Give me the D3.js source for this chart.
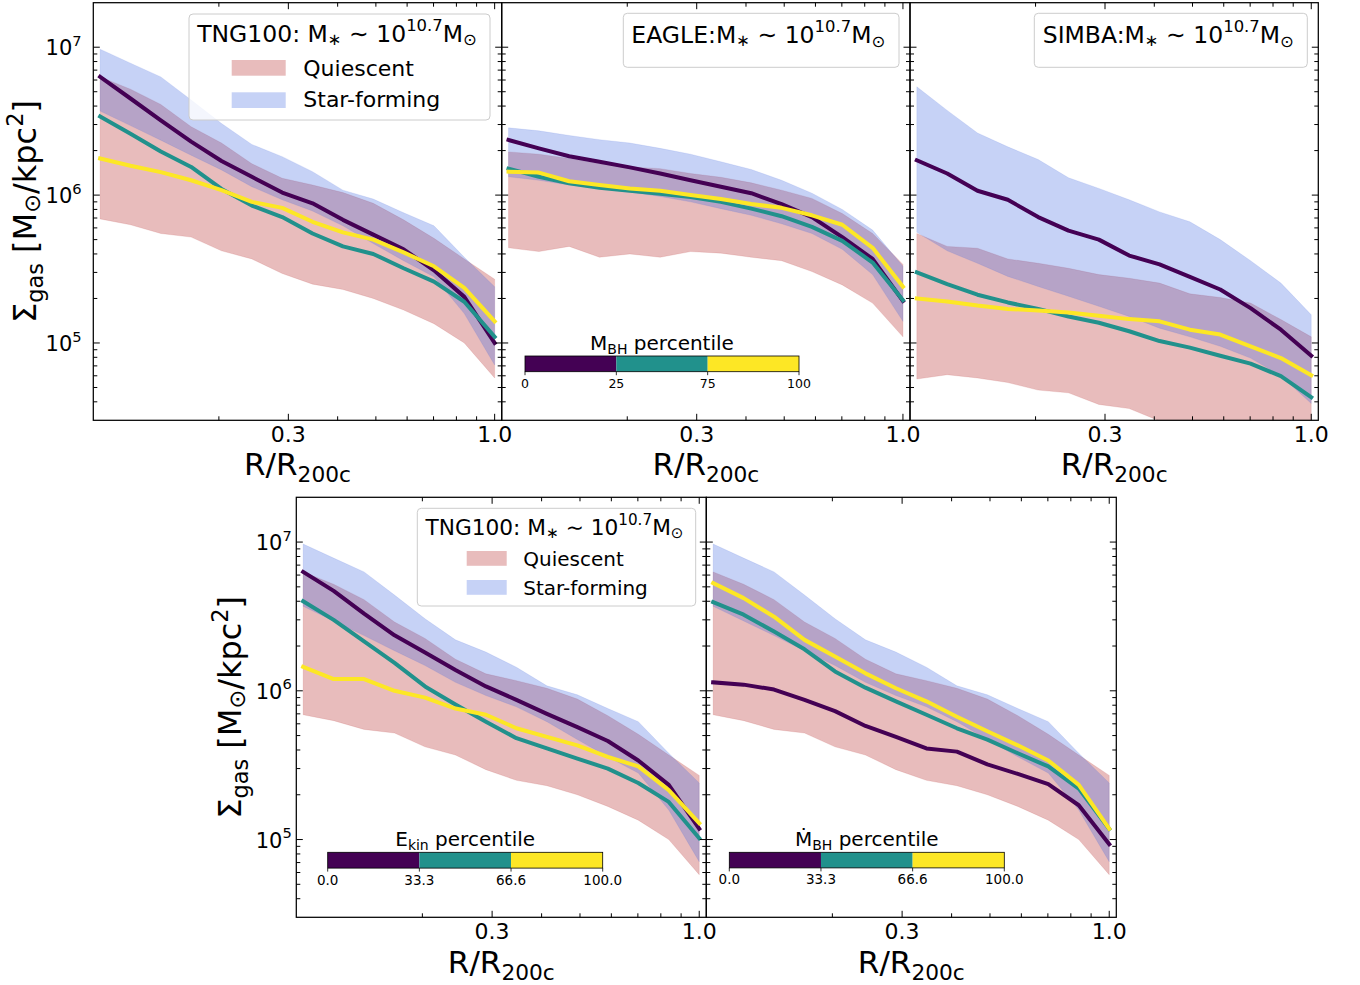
<!DOCTYPE html>
<html>
<head>
<meta charset="utf-8">
<script src="https://cdn.jsdelivr.net/npm/d3@7"></script>
<style>
  body { margin: 0; background: #fff; }
  svg { display: block; }
  text { font-family: "DejaVu Sans", "Noto Sans", sans-serif; fill: #000; }
</style>
</head>
<body>
<svg id="fig" width="1360" height="985"></svg>
<script>
// ---------------------------------------------------------------
// Radial bins (R / R200c), shared by every panel
// ---------------------------------------------------------------
const radius = [0.100, 0.1194, 0.1425, 0.1701, 0.2031, 0.2424, 0.2894,
                0.3455, 0.4125, 0.4924, 0.5878, 0.7017, 0.8377, 1.000];

// Axis ticks
const xMajorTicks = [0.3, 1.0];
const xMajorLabels = ["0.3", "1.0"];
const xMinorTicks = [0.2, 0.4, 0.5, 0.6, 0.7, 0.8, 0.9];
const yMajorTicks = [1e5, 1e6, 1e7];
const yMajorExponents = ["5", "6", "7"];

// ---------------------------------------------------------------
// TNG100: quiescent / star-forming 16-84 percentile bands
// ---------------------------------------------------------------
const tngQuiescentLo   = [6.9e5, 6.3e5, 5.5e5, 5.2e5, 4.2e5, 3.7e5, 2.95e5, 2.5e5, 2.3e5, 2.0e5, 1.67e5, 1.35e5, 1.0e5, 5.8e4];
const tngQuiescentHi   = [6.3e6, 5.2e6, 4.1e6, 2.9e6, 2.25e6, 1.63e6, 1.3e6, 1.17e6, 1.04e6, 8.8e5, 6.8e5, 5.1e5, 3.7e5, 2.7e5];
const tngStarFormingLo = [3.7e6, 2.95e6, 2.35e6, 1.86e6, 1.48e6, 1.14e6, 9.3e5, 7.8e5, 6.2e5, 4.7e5, 3.6e5, 2.8e5, 1.58e5, 7.1e4];
const tngStarFormingHi = [9.7e6, 7.8e6, 6.3e6, 4.4e6, 3.05e6, 2.2e6, 1.82e6, 1.44e6, 1.08e6, 9.4e5, 7.6e5, 6.2e5, 3.8e5, 2.4e5];

// TNG100 medians split by M_BH percentile (0-25, 25-75, 75-100)
const tngBhLow  = [6.3e6, 4.5e6, 3.2e6, 2.3e6, 1.7e6, 1.33e6, 1.04e6, 8.8e5, 6.8e5, 5.4e5, 4.3e5, 3.1e5, 2.05e5, 1.0e5];
const tngBhMid  = [3.4e6, 2.6e6, 1.97e6, 1.55e6, 1.1e6, 8.5e5, 7.1e5, 5.5e5, 4.5e5, 4.0e5, 3.2e5, 2.6e5, 1.9e5, 1.1e5];
const tngBhHigh = [1.77e6, 1.58e6, 1.43e6, 1.26e6, 1.08e6, 9.0e5, 8.2e5, 6.6e5, 5.6e5, 5.0e5, 4.1e5, 3.3e5, 2.36e5, 1.4e5];

// ---------------------------------------------------------------
// EAGLE
// ---------------------------------------------------------------
const eagleQuiescentLo   = [4.4e5, 4.15e5, 4.5e5, 3.8e5, 4.0e5, 3.8e5, 4.15e5, 4.05e5, 3.8e5, 3.6e5, 3.04e5, 2.47e5, 1.86e5, 1.1e5];
const eagleQuiescentHi   = [1.96e6, 1.89e6, 1.77e6, 1.63e6, 1.55e6, 1.51e6, 1.40e6, 1.32e6, 1.21e6, 1.08e6, 9.5e5, 7.5e5, 5.5e5, 3.4e5];
const eagleStarFormingLo = [1.33e6, 1.26e6, 1.17e6, 1.11e6, 1.05e6, 9.8e5, 9.0e5, 8.1e5, 7.3e5, 6.4e5, 5.5e5, 4.3e5, 2.9e5, 1.4e5];
const eagleStarFormingHi = [2.85e6, 2.72e6, 2.53e6, 2.37e6, 2.25e6, 2.07e6, 1.89e6, 1.68e6, 1.49e6, 1.26e6, 1.03e6, 8.0e5, 5.8e5, 3.3e5];

const eagleBhLow  = [2.36e6, 2.07e6, 1.83e6, 1.68e6, 1.54e6, 1.40e6, 1.26e6, 1.14e6, 1.03e6, 8.7e5, 7.1e5, 5.2e5, 3.7e5, 1.92e5];
const eagleBhMid  = [1.51e6, 1.33e6, 1.2e6, 1.12e6, 1.07e6, 1.02e6, 9.7e5, 9.0e5, 8.1e5, 7.2e5, 6.1e5, 4.9e5, 3.5e5, 1.95e5];
const eagleBhHigh = [1.44e6, 1.42e6, 1.24e6, 1.17e6, 1.11e6, 1.07e6, 1.0e6, 9.4e5, 8.7e5, 8.2e5, 7.3e5, 6.3e5, 4.4e5, 2.4e5];

// ---------------------------------------------------------------
// SIMBA
// ---------------------------------------------------------------
const simbaQuiescentLo   = [5.7e4, 6.1e4, 5.8e4, 5.4e4, 4.8e4, 4.6e4, 3.84e4, 3.6e4, 2.97e4, 2.6e4, 2.35e4, 2.0e4, 1.6e4, 1.25e4];
const simbaQuiescentHi   = [5.5e5, 4.5e5, 4.37e5, 3.7e5, 3.46e5, 3.2e5, 2.9e5, 2.74e5, 2.54e5, 2.15e5, 2.03e5, 1.86e5, 1.44e5, 1.1e5];
const simbaStarFormingLo = [5.6e5, 4.2e5, 3.46e5, 2.82e5, 2.41e5, 2.07e5, 1.77e5, 1.51e5, 1.26e5, 1.1e5, 9.5e4, 7.9e4, 6.0e4, 3.9e4];
const simbaStarFormingHi = [5.4e6, 3.74e6, 2.63e6, 2.12e6, 1.74e6, 1.31e6, 1.11e6, 9.3e5, 7.7e5, 6.6e5, 5.0e5, 3.6e5, 2.54e5, 1.55e5];

const simbaBhLow  = [1.72e6, 1.40e6, 1.07e6, 9.3e5, 7.1e5, 5.75e5, 5.0e5, 3.9e5, 3.4e5, 2.8e5, 2.3e5, 1.72e5, 1.23e5, 8.2e4];
const simbaBhMid  = [3.0e5, 2.5e5, 2.12e5, 1.88e5, 1.7e5, 1.51e5, 1.37e5, 1.2e5, 1.03e5, 9.3e4, 8.2e4, 7.25e4, 5.96e4, 4.3e4];
const simbaBhHigh = [2.0e5, 1.91e5, 1.79e5, 1.7e5, 1.66e5, 1.61e5, 1.53e5, 1.45e5, 1.4e5, 1.23e5, 1.14e5, 9.5e4, 7.9e4, 6.05e4];

// ---------------------------------------------------------------
// TNG100 medians split by kinetic AGN energy and by BH accretion rate
// ---------------------------------------------------------------
const tngEkinLow  = [6.3e6, 4.7e6, 3.3e6, 2.36e6, 1.81e6, 1.38e6, 1.07e6, 8.7e5, 7.0e5, 5.7e5, 4.6e5, 3.4e5, 2.33e5, 1.18e5];
const tngEkinMid  = [4.0e6, 3.0e6, 2.15e6, 1.54e6, 1.07e6, 8.1e5, 6.2e5, 4.8e5, 4.1e5, 3.5e5, 3.0e5, 2.4e5, 1.79e5, 1.02e5];
const tngEkinHigh = [1.45e6, 1.2e6, 1.2e6, 1.0e6, 9.0e5, 7.6e5, 6.9e5, 5.6e5, 4.9e5, 4.3e5, 3.6e5, 3.1e5, 2.15e5, 1.29e5];

const tngBhdotLow  = [1.14e6, 1.10e6, 1.02e6, 8.7e5, 7.3e5, 5.8e5, 4.9e5, 4.1e5, 3.9e5, 3.2e5, 2.76e5, 2.36e5, 1.7e5, 9.3e4];
const tngBhdotMid  = [3.95e6, 3.25e6, 2.5e6, 1.9e6, 1.35e6, 1.05e6, 8.5e5, 6.9e5, 5.6e5, 4.7e5, 3.8e5, 3.1e5, 2.2e5, 1.18e5];
const tngBhdotHigh = [5.3e6, 4.2e6, 3.15e6, 2.2e6, 1.7e6, 1.31e6, 1.04e6, 8.5e5, 6.7e5, 5.35e5, 4.3e5, 3.4e5, 2.33e5, 1.18e5];

// Percentile colour-bar tick labels
const bhPercentileLabels   = ["0", "25", "75", "100"];
const tercileLabels        = ["0.0", "33.3", "66.6", "100.0"];

// ---------------------------------------------------------------
// Styling
// ---------------------------------------------------------------
const lineColors = ["#440154", "#21918c", "#fde725"];
const quiescentColor = "firebrick";
const starFormingColor = "royalblue";
const bandOpacity = 0.3;
const xDomain = [0.0961, 1.042];
const yDomain = [3e4, 2e7];

const svg = d3.select("#fig");

// Writes a text made of normal / subscript / superscript pieces.
function richText(textSel, parts, size) {
  let cur = 0;
  for (const [str, kind, shift] of parts) {
    const off = kind === "sub" ? (shift ?? 0.22) * size : kind === "sup" ? -(shift ?? 0.42) * size : 0;
    textSel.append("tspan")
      .attr("dy", (off - cur).toFixed(2))
      .attr("font-size", kind ? size * 0.7 : size)
      .text(str);
    cur = off;
  }
  return textSel;
}

const titleParts = name => [[name + "M"], ["∗", "sub", 0.12], [" ∼ 10"], ["10.7", "sup", 0.45], ["M"], ["⊙", "sub", 0.15]];

const panels = [
  { // TNG100, M_BH split
    box: { x: 93.3, y: 2.7, w: 408.4, h: 417.6 },
    q: [tngQuiescentLo, tngQuiescentHi], sf: [tngStarFormingLo, tngStarFormingHi],
    lines: [tngBhLow, tngBhMid, tngBhHigh],
    yLabels: { gap: 11.6, ylabelX: 36 }, xLabelBase: 475, tickBase: 442,
    legend: { box: [189, 14, 301, 106], title: "TNG100: ", titleX: 337, titleY: 41.7, size: 22, titleSize: 23.5,
              entries: { x: 231.7, w: 54, ys: [60, 92.3], h: 15.7, textX: 303.3, textYs: [76, 106.7] } }
  },
  { // EAGLE, M_BH split
    box: { x: 501.7, y: 2.7, w: 408.3, h: 417.6 },
    q: [eagleQuiescentLo, eagleQuiescentHi], sf: [eagleStarFormingLo, eagleStarFormingHi],
    lines: [eagleBhLow, eagleBhMid, eagleBhHigh],
    xLabelBase: 475, tickBase: 442,
    legend: { box: [623.3, 13.3, 275.7, 54], title: "EAGLE:", titleX: 758.3, titleY: 43, titleSize: 23.5 },
    colorbar: { x: 525, y: 356, w: 274, h: 15.7, title: [["M"], ["BH", "sub"], [" percentile"]],
                titleY: 350, titleSize: 20, labels: bhPercentileLabels, labelY: 388, labelSize: 12.5 }
  },
  { // SIMBA, M_BH split
    box: { x: 910, y: 2.7, w: 408.3, h: 417.6 },
    q: [simbaQuiescentLo, simbaQuiescentHi], sf: [simbaStarFormingLo, simbaStarFormingHi],
    lines: [simbaBhLow, simbaBhMid, simbaBhHigh],
    xLabelBase: 475, tickBase: 442,
    legend: { box: [1034.3, 13.3, 273, 54], title: "SIMBA:", titleX: 1168.3, titleY: 43, titleSize: 23.5 }
  },
  { // TNG100, E_kin split
    box: { x: 296.3, y: 497.3, w: 410, h: 420 },
    q: [tngQuiescentLo, tngQuiescentHi], sf: [tngStarFormingLo, tngStarFormingHi],
    lines: [tngEkinLow, tngEkinMid, tngEkinHigh],
    yLabels: { gap: 4.5, ylabelX: 241 }, xLabelBase: 973, tickBase: 938.5,
    legend: { box: [417.3, 508.3, 278.4, 97.7], title: "TNG100: ", titleX: 554.5, titleY: 535, size: 20, titleSize: 21.7,
              entries: { x: 466.7, w: 40, ys: [551, 580], h: 14.8, textX: 523.3, textYs: [566, 595] } },
    colorbar: { x: 327.7, y: 852.3, w: 275, h: 15.8, title: [["E"], ["kin", "sub"], [" percentile"]],
                titleY: 846, titleSize: 20, labels: tercileLabels, labelY: 885, labelSize: 13.5 }
  },
  { // TNG100, accretion-rate split
    box: { x: 706.3, y: 497.3, w: 410, h: 420 },
    q: [tngQuiescentLo, tngQuiescentHi], sf: [tngStarFormingLo, tngStarFormingHi],
    lines: [tngBhdotLow, tngBhdotMid, tngBhdotHigh],
    xLabelBase: 973, tickBase: 938.5,
    colorbar: { x: 729.3, y: 852.3, w: 275, h: 15.6, title: [["Ṁ"], ["BH", "sub"], [" percentile"]],
                titleY: 846, titleSize: 20, labels: tercileLabels, labelY: 884, labelSize: 13.5 }
  }
];

panels.forEach((p, pi) => {
  const b = p.box;
  const x = d3.scaleLog().domain(xDomain).range([b.x, b.x + b.w]);
  const y = d3.scaleLog().domain(yDomain).range([b.y + b.h, b.y]);
  const g = svg.append("g");

  g.append("clipPath").attr("id", "clip" + pi)
    .append("rect").attr("x", b.x).attr("y", b.y).attr("width", b.w).attr("height", b.h);
  const plot = g.append("g").attr("clip-path", `url(#clip${pi})`);

  // percentile bands
  const band = (lo, hi) => d3.area()
    .x((d, i) => x(radius[i]))
    .y0((d, i) => y(lo[i]))
    .y1((d, i) => y(hi[i]))(radius);
  plot.append("path").attr("d", band(p.q[0], p.q[1]))
    .attr("fill", quiescentColor).attr("fill-opacity", bandOpacity)
    .attr("stroke", quiescentColor).attr("stroke-opacity", bandOpacity * 0.5).attr("stroke-width", 0.8);
  plot.append("path").attr("d", band(p.sf[0], p.sf[1]))
    .attr("fill", starFormingColor).attr("fill-opacity", bandOpacity)
    .attr("stroke", starFormingColor).attr("stroke-opacity", bandOpacity * 0.5).attr("stroke-width", 0.8);

  // median profiles
  const line = d3.line().x((d, i) => x(radius[i])).y(d => y(d));
  p.lines.forEach((vals, k) => {
    plot.append("path").attr("d", line(vals))
      .attr("fill", "none").attr("stroke", lineColors[k])
      .attr("stroke-width", 4).attr("stroke-linejoin", "round").attr("stroke-linecap", "square");
  });

  // ticks on all four sides, pointing inwards
  const tk = g.append("g").attr("stroke", "#000").attr("stroke-width", 1);
  const yMinor = y.ticks().filter(v => !yMajorTicks.includes(v) && v > yDomain[0] && v < yDomain[1]);
  const yTick = (v, len) => {
    tk.append("line").attr("x1", b.x).attr("x2", b.x + len).attr("y1", y(v)).attr("y2", y(v));
    tk.append("line").attr("x1", b.x + b.w).attr("x2", b.x + b.w - len).attr("y1", y(v)).attr("y2", y(v));
  };
  const xTick = (v, len) => {
    tk.append("line").attr("x1", x(v)).attr("x2", x(v)).attr("y1", b.y + b.h).attr("y2", b.y + b.h - len);
    tk.append("line").attr("x1", x(v)).attr("x2", x(v)).attr("y1", b.y).attr("y2", b.y + len);
  };
  yMinor.forEach(v => yTick(v, 4));
  yMajorTicks.forEach(v => yTick(v, 6.5));
  xMinorTicks.forEach(v => xTick(v, 4));
  xMajorTicks.forEach(v => xTick(v, 6.5));

  g.append("rect").attr("x", b.x).attr("y", b.y).attr("width", b.w).attr("height", b.h)
    .attr("fill", "none").attr("stroke", "#000").attr("stroke-width", 1.25);

  // x tick labels and axis label
  xMajorTicks.forEach((v, i) => {
    g.append("text").attr("x", x(v)).attr("y", p.tickBase).attr("text-anchor", "middle")
      .attr("font-size", 22).text(xMajorLabels[i]);
  });
  richText(g.append("text").attr("x", b.x + b.w / 2).attr("y", p.xLabelBase).attr("text-anchor", "middle"),
    [["R/R"], ["200c", "sub"]], 31);

  // y tick labels and axis label (left column only)
  if (p.yLabels) {
    yMajorTicks.forEach((v, i) => {
      richText(g.append("text").attr("x", b.x - p.yLabels.gap).attr("y", y(v) + 8).attr("text-anchor", "end"),
        [["10"], [yMajorExponents[i], "sup", 0.45]], 21);
    });
    const cy = b.y + b.h / 2;
    richText(g.append("text").attr("text-anchor", "middle")
        .attr("transform", `translate(${p.yLabels.ylabelX},${cy}) rotate(-90)`),
      [["Σ"], ["gas", "sub"], [" [M"], ["⊙", "sub", 0.12], ["/kpc"], ["2", "sup"], ["]"]], 32);
  }

  // legend
  if (p.legend) {
    const L = p.legend;
    const lg = g.append("g");
    lg.append("rect").attr("x", L.box[0]).attr("y", L.box[1]).attr("width", L.box[2]).attr("height", L.box[3])
      .attr("rx", 4).attr("fill", "#fff").attr("fill-opacity", 0.8)
      .attr("stroke", "#cccccc").attr("stroke-width", 1);
    richText(lg.append("text").attr("x", L.titleX).attr("y", L.titleY).attr("text-anchor", "middle"),
      titleParts(L.title), L.titleSize);
    if (L.entries) {
      const E = L.entries;
      [["Quiescent", quiescentColor], ["Star-forming", starFormingColor]].forEach(([name, col], i) => {
        lg.append("rect").attr("x", E.x).attr("y", E.ys[i]).attr("width", E.w).attr("height", E.h)
          .attr("fill", col).attr("fill-opacity", bandOpacity);
        lg.append("text").attr("x", E.textX).attr("y", E.textYs[i]).attr("font-size", L.size).text(name);
      });
    }
  }

  // percentile colour bar
  if (p.colorbar) {
    const C = p.colorbar;
    const cx = d3.scaleLinear().domain([0, C.labels.length - 1]).range([C.x, C.x + C.w]);
    const cg = g.append("g");
    lineColors.forEach((col, i) => {
      cg.append("rect").attr("x", cx(i)).attr("y", C.y).attr("width", cx(i + 1) - cx(i)).attr("height", C.h)
        .attr("fill", col);
    });
    cg.append("rect").attr("x", C.x).attr("y", C.y).attr("width", C.w).attr("height", C.h)
      .attr("fill", "none").attr("stroke", "#000").attr("stroke-width", 0.8);
    C.labels.forEach((lab, i) => {
      cg.append("line").attr("x1", cx(i)).attr("x2", cx(i)).attr("y1", C.y + C.h).attr("y2", C.y + C.h + 3.5)
        .attr("stroke", "#000").attr("stroke-width", 0.8);
      cg.append("text").attr("x", cx(i)).attr("y", C.labelY).attr("text-anchor", "middle")
        .attr("font-size", C.labelSize).text(lab);
    });
    richText(cg.append("text").attr("x", C.x + C.w / 2).attr("y", C.titleY).attr("text-anchor", "middle"),
      C.title, C.titleSize);
  }
});
</script>
</body>
</html>
